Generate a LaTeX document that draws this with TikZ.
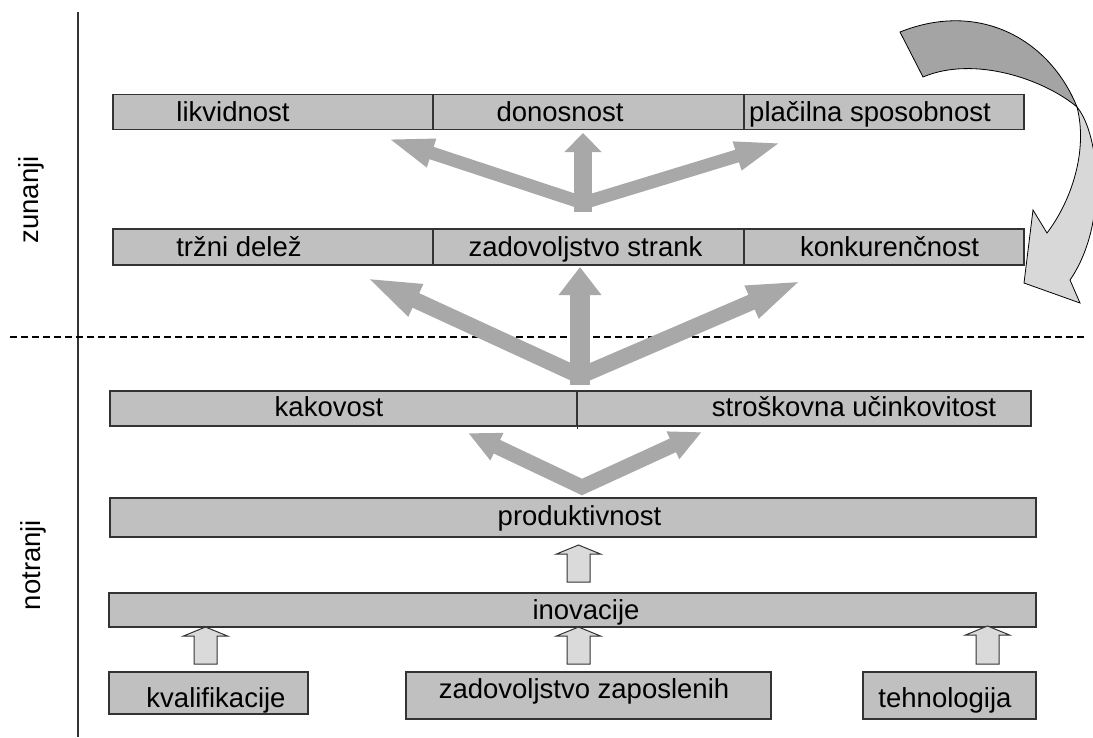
\documentclass[tikz,border=0pt]{standalone}
\usepackage{fontspec}
\setmainfont{Liberation Sans}
\usetikzlibrary{arrows.meta,calc}
\definecolor{boxfill}{HTML}{C0C0C0}
\definecolor{boxline}{HTML}{333333}
\definecolor{arrgray}{HTML}{A8A8A8}
\definecolor{hollowfill}{HTML}{DADADA}
\definecolor{ribbondark}{HTML}{A4A4A4}
\definecolor{ribbonlight}{HTML}{D8D8D8}
\newcommand{\hollowup}[2]{%
  \draw[hollow] ($(#1)+(-11.5,0)$) -- ($(#2)+(-11.5,9)$) -- ($(#2)+(-22,9)$) -- (#2)
    -- ($(#2)+(22,9)$) -- ($(#2)+(11.5,9)$) -- ($(#1)+(11.5,0)$) -- cycle;}
\begin{document}
\begin{tikzpicture}[x=1pt,y=-1pt,
  cell/.style={draw=boxline, fill=boxfill, line width=1.2pt, inner sep=0pt, outer sep=0pt},
  lbl/.style={inner sep=0pt, anchor=base, font=\fontsize{27.5}{32}\selectfont},
  hollow/.style={draw=boxline, fill=hollowfill, line width=1pt, line join=miter},
  fat/.style={draw=arrgray, line join=miter, miter limit=20},
  axisline/.style={draw=boxline, line width=1.2pt},
  divline/.style={draw=black, line width=1.2pt, dash pattern=on 7pt off 4pt},
  ribbon/.style={draw=black, line width=0.8pt, line join=miter}
]
\useasboundingbox (0,0) rectangle (1093,737);

% axis and separator
\coordinate (ax1) at (78,12);
\coordinate (ax2) at (78,737);
\draw[axisline] (ax1) -- (ax2);
\coordinate (dl) at (10,337);
\coordinate (dr) at (1085,337);
\draw[divline] (dl) -- (dr);

% side labels
\node[lbl, rotate=90] (tz) at (38,200) {zunanji};
\node[lbl, rotate=90] (tn) at (40,565) {notranji};

% row 1
\node[cell, minimum width=320pt, minimum height=35pt] (c1a) at (273,112) {};
\node[cell, minimum width=311pt, minimum height=35pt] (c1b) at (588.5,112) {};
\node[cell, minimum width=280pt, minimum height=35pt] (c1c) at (884,112) {};
\node[lbl] (t1a) at (233,121) {likvidnost};
\node[lbl] (t1b) at (560,121) {donosnost};
\node[lbl] (t1c) at (870,121) {plačilna sposobnost};

% row 2
\node[cell, minimum width=320pt, minimum height=36pt] (c2a) at (273,247) {};
\node[cell, minimum width=311pt, minimum height=36pt] (c2b) at (588.5,247) {};
\node[cell, minimum width=280pt, minimum height=36pt] (c2c) at (884,247) {};
\node[lbl] (t2a) at (239,256) {tržni delež};
\node[lbl] (t2b) at (585.5,256) {zadovoljstvo strank};
\node[lbl] (t2c) at (889.5,256) {konkurenčnost};

% row 3
\node[cell, minimum width=467pt, minimum height=35pt] (c3a) at (343.5,408.5) {};
\node[cell, minimum width=454pt, minimum height=35pt] (c3b) at (804,408.5) {};
\draw[boxline, line width=1pt] (c3a.north east) -- ++(0,38);
\node[lbl] (t3a) at (329,416) {kakovost};
\node[lbl] (t3b) at (854,416) {stroškovna učinkovitost};

% row 4, 5
\node[cell, minimum width=926pt, minimum height=39pt] (c4) at (573,517.5) {};
\node[lbl] (t4) at (579.5,525) {produktivnost};
\node[cell, minimum width=927pt, minimum height=34pt] (c5) at (572.5,610) {};
\node[lbl] (t5) at (586,619) {inovacije};

% bottom boxes
\node[cell, minimum width=199pt, minimum height=42pt] (b1) at (208.5,693) {};
\node[lbl] (tb1) at (216,707) {kvalifikacije};
\node[cell, minimum width=365pt, minimum height=47pt] (b2) at (588.5,695.5) {};
\node[lbl] (tb2) at (584,698) {zadovoljstvo zaposlenih};
\node[cell, minimum width=173pt, minimum height=47pt] (b3) at (949.5,695.5) {};
\node[lbl] (tb3) at (945,707) {tehnologija};

% hollow up arrows
\coordinate (h1b) at (205.5,664); \coordinate (h1t) at (205.5,627);
\coordinate (h2b) at (578.5,664); \coordinate (h2t) at (578.5,627);
\coordinate (h3b) at (987.5,664); \coordinate (h3t) at (987.5,626);
\coordinate (h4b) at (578.5,582); \coordinate (h4t) at (578.5,545);
\hollowup{h1b}{h1t}
\hollowup{h2b}{h2t}
\hollowup{h3b}{h3t}
\hollowup{h4b}{h4t}

% gray arrows group 1 (row 2 -> row 1)
\coordinate (g1v) at (583,203);
\coordinate (g1l) at (386,138);
\coordinate (g1r) at (783,142);
\coordinate (g1b) at (583,212);
\coordinate (g1u) at (583,133);
\draw[fat, line width=13pt, {Triangle[length=48pt,width=26pt]}-{Triangle[length=48pt,width=26pt]}] (g1l) -- (g1v) -- (g1r);
\draw[fat, line width=18pt, -{Triangle[length=19pt,width=36pt]}] (g1b) -- (g1u);

% gray arrows group 2 (row 3 -> row 2)
\coordinate (g2v) at (580,376);
\coordinate (g2l) at (365,277);
\coordinate (g2r) at (803,280);
\coordinate (g2b) at (580,385);
\coordinate (g2u) at (580,267);
\draw[fat, line width=16pt, {Triangle[length=56pt,width=31pt]}-{Triangle[length=56pt,width=31pt]}] (g2l) -- (g2v) -- (g2r);
\draw[fat, line width=20pt, -{Triangle[length=28pt,width=41pt]}] (g2b) -- (g2u);

% gray arrows group 3 (produktivnost -> row 3)
\coordinate (g3v) at (582,487);
\coordinate (g3l) at (468,433);
\coordinate (g3r) at (702,432);
\draw[fat, line width=15pt, {Triangle[length=32pt,width=28pt]}-{Triangle[length=32pt,width=28pt]}] (g3l) -- (g3v) -- (g3r);

% curved ribbon arrow top right
\begin{scope}
\clip (0,0) rectangle (1093,737);
\draw[ribbon, fill=ribbonlight] (1077,107) .. controls (1100,135) and (1108,225) .. (1070,280)
  -- (1080,303) -- (1024,283) -- (1033,210) -- (1047,233)
  .. controls (1072,200) and (1088,150) .. (1077,107) -- cycle;
\draw[ribbon, fill=ribbondark] (900,32) .. controls (980,0) and (1050,40) .. (1077,107)
  .. controls (1045,80) and (975,55) .. (923,77) -- cycle;
\end{scope}
\end{tikzpicture}
\end{document}
